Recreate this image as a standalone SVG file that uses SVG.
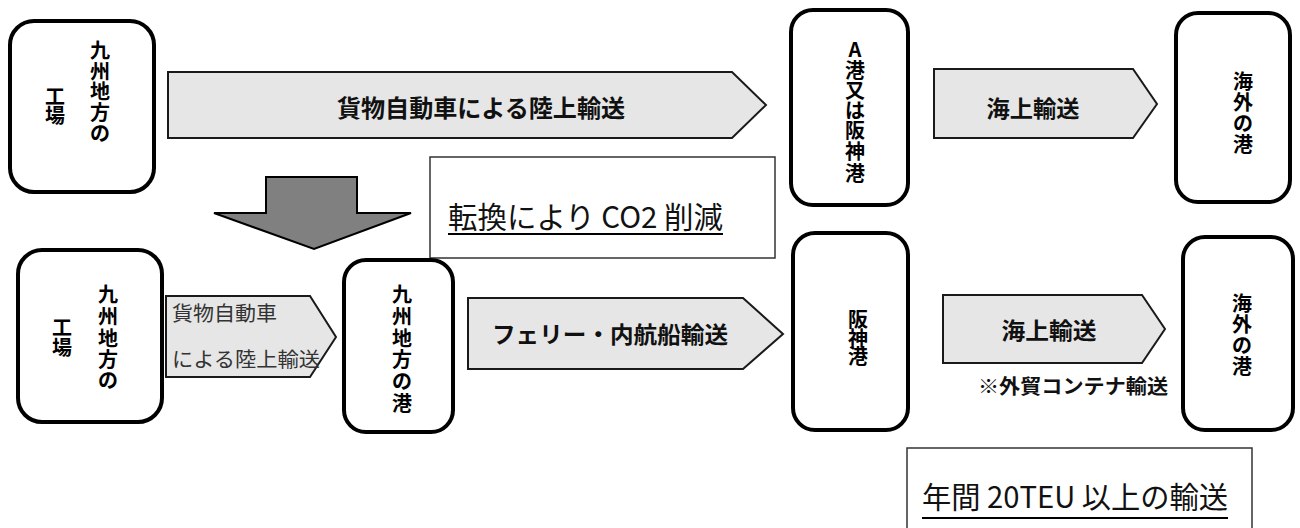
<svg xmlns="http://www.w3.org/2000/svg" width="1300" height="528" viewBox="0 0 1300 528">
<style>
.node{fill:#fff;stroke:#000;stroke-width:4}
.arr{fill:#e6e6e6;stroke:#1a1a1a;stroke-width:2;stroke-linejoin:miter}
.vt{font-family:"Noto Sans CJK JP","Noto Sans",sans-serif;font-weight:bold;font-size:20px;fill:#000;text-anchor:middle;dominant-baseline:central}
.lbl{font-family:"Noto Sans CJK JP","Noto Sans",sans-serif;font-weight:bold;font-size:23px;fill:#111;text-anchor:middle;dominant-baseline:central}
.thin{font-family:"Noto Sans CJK JP","Noto Sans",sans-serif;font-weight:normal;font-size:20px;fill:#333}
.note{font-family:"Noto Sans CJK JP","Noto Sans",sans-serif;font-weight:normal;font-size:29.5px;fill:#111}
.box{fill:#fff;stroke:#333;stroke-width:1.5}
.ul{stroke:#000;stroke-width:2}
</style>
<g id="connectors">
  <g id="arrow-truck-top">
    <polygon class="arr" points="168,72 732,72 766,105 732,138 168,138"/>
    <text class="lbl" style="font-size:24px" x="481" y="106" textLength="288" lengthAdjust="spacingAndGlyphs">貨物自動車による陸上輸送</text>
  </g>
  <g id="arrow-sea-top">
    <polygon class="arr" points="934,69 1133,69 1157,104 1133,138 934,138"/>
    <text class="lbl" x="1033" y="107" textLength="93" lengthAdjust="spacingAndGlyphs">海上輸送</text>
  </g>
  <g id="arrow-down">
    <polygon points="266,177 357,177 357,213 411,213 314,249 214,213 266,213" fill="#808080" stroke="#000" stroke-width="2"/>
  </g>
  <g id="arrow-truck-bottom">
    <polygon class="arr" points="166,296 310,296 336,337 310,377 166,377"/>
    <text class="thin" x="172" y="321" textLength="105" lengthAdjust="spacingAndGlyphs">貨物自動車</text>
    <text class="thin" x="172" y="367" textLength="148" lengthAdjust="spacingAndGlyphs">による陸上輸送</text>
  </g>
  <g id="arrow-ferry">
    <polygon class="arr" points="468,298 743,298 783,334 743,369 468,369"/>
    <text class="lbl" x="610" y="333" textLength="236" lengthAdjust="spacingAndGlyphs">フェリー・内航船輸送</text>
  </g>
  <g id="arrow-sea-bottom">
    <polygon class="arr" points="943,295 1142,295 1165,329 1142,363 943,363"/>
    <text class="lbl" x="1049" y="329" textLength="95" lengthAdjust="spacingAndGlyphs">海上輸送</text>
    <text class="lbl" style="font-size:20px" x="1073" y="385" textLength="190" lengthAdjust="spacingAndGlyphs">※外貿コンテナ輸送</text>
  </g>
</g>
<g id="node-factory-top">
  <rect class="node" x="10" y="21" width="144" height="171" rx="24"/>
  <text class="vt"><tspan x="100" y="49">九</tspan><tspan x="100" y="70">州</tspan><tspan x="100" y="90">地</tspan><tspan x="100" y="111">方</tspan><tspan x="100" y="132">の</tspan></text>
  <text class="vt"><tspan x="55" y="95">工</tspan><tspan x="55" y="114">場</tspan></text>
</g>
<g id="node-port-a">
  <rect class="node" x="791" y="10" width="117" height="195" rx="22"/>
  <text class="vt"><tspan x="855" y="48">A</tspan><tspan x="855" y="69">港</tspan><tspan x="855" y="89">又</tspan><tspan x="855" y="109">は</tspan><tspan x="855" y="129">阪</tspan><tspan x="855" y="150">神</tspan><tspan x="855" y="172">港</tspan></text>
</g>
<g id="node-overseas-top">
  <rect class="node" x="1176" y="13" width="114" height="189" rx="22"/>
  <text class="vt"><tspan x="1243" y="80">海</tspan><tspan x="1243" y="101">外</tspan><tspan x="1243" y="122">の</tspan><tspan x="1243" y="143">港</tspan></text>
</g>
<g id="note-co2">
  <rect class="box" x="430" y="157" width="345" height="101"/>
  <text class="note" x="448" y="228" textLength="275" lengthAdjust="spacingAndGlyphs">転換により CO2 削減</text>
  <line class="ul" x1="448" y1="234" x2="723" y2="234"/>
</g>
<g id="node-factory-bottom">
  <rect class="node" x="18" y="250" width="144" height="172" rx="24"/>
  <text class="vt"><tspan x="108" y="293">九</tspan><tspan x="108" y="315">州</tspan><tspan x="108" y="337">地</tspan><tspan x="108" y="358">方</tspan><tspan x="108" y="379">の</tspan></text>
  <text class="vt"><tspan x="62" y="326">工</tspan><tspan x="62" y="346">場</tspan></text>
</g>
<g id="node-kyushu-port">
  <rect class="node" x="344" y="260" width="109" height="172" rx="22"/>
  <text class="vt"><tspan x="402" y="293">九</tspan><tspan x="402" y="315">州</tspan><tspan x="402" y="337">地</tspan><tspan x="402" y="358">方</tspan><tspan x="402" y="380">の</tspan><tspan x="402" y="402">港</tspan></text>
</g>
<g id="node-hanshin">
  <rect class="node" x="793" y="233" width="115" height="197" rx="22"/>
  <text class="vt"><tspan x="858" y="318">阪</tspan><tspan x="858" y="337">神</tspan><tspan x="858" y="355">港</tspan></text>
</g>
<g id="node-overseas-bottom">
  <rect class="node" x="1183" y="237" width="110" height="193" rx="22"/>
  <text class="vt"><tspan x="1242" y="302">海</tspan><tspan x="1242" y="323">外</tspan><tspan x="1242" y="344">の</tspan><tspan x="1242" y="365">港</tspan></text>
</g>
<g id="note-teu">
  <rect class="box" x="907" y="448" width="345" height="95"/>
  <text class="note" x="922" y="508" textLength="306" lengthAdjust="spacingAndGlyphs">年間 20TEU 以上の輸送</text>
  <line class="ul" x1="922" y1="518" x2="1228" y2="518"/>
</g>
</svg>
